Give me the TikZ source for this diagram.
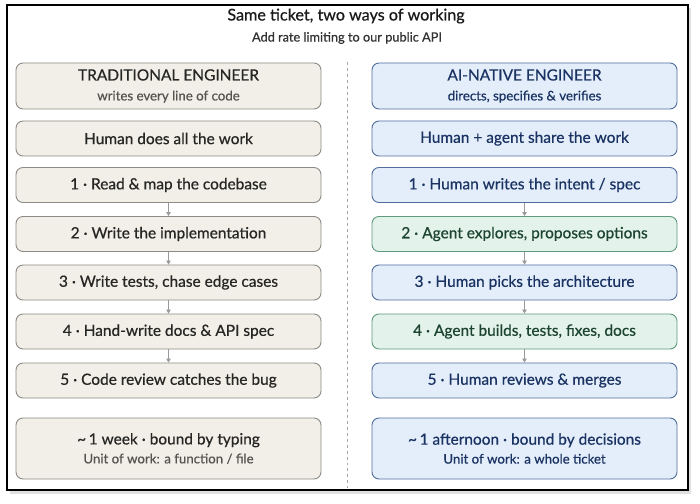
\documentclass[tikz,border=0pt]{standalone}
\usepackage{fontspec}
\setmainfont{Lato}[FakeBold=0.6]
\usetikzlibrary{arrows.meta}
\definecolor{tradfill}{HTML}{F1EFE7}
\definecolor{tradline}{HTML}{8C8B85}
\definecolor{tradtext}{HTML}{262624}
\definecolor{tradsub}{HTML}{55544F}
\definecolor{aifill}{HTML}{E4EEFA}
\definecolor{ailine}{HTML}{4F6E9C}
\definecolor{aitext}{HTML}{1A3363}
\definecolor{agentfill}{HTML}{E3F2EA}
\definecolor{agentline}{HTML}{5E9A7C}
\definecolor{agenttext}{HTML}{1C4431}
\definecolor{arrowgray}{HTML}{9A9A9A}
\newcommand{\bigtxt}{\fontsize{15.5}{18}\selectfont}
\newcommand{\smalltxt}{\fontsize{13.3}{15}\selectfont}
\begin{document}
\begin{tikzpicture}[x=1bp,y=-1bp,
  card/.style={rectangle, rounded corners=7bp, minimum width=305bp, inner sep=0pt,
    line width=0.9bp, align=center, font=\bigtxt},
  trad/.style={card, draw=tradline, fill=tradfill, text=tradtext},
  ai/.style={card, draw=ailine, fill=aifill, text=aitext},
  agent/.style={card, draw=agentline, fill=agentfill, text=agenttext},
  flow/.style={draw=arrowgray, line width=0.8bp, -{Triangle[length=4bp,width=4.5bp]}}]
\useasboundingbox (0,0) rectangle (700,504);
\fill[white] (0,0) rectangle (700,504);
% frame with a soft shadow
\fill[black!12] (10,8) rectangle (691,494);
\draw[line width=1.3bp, fill=white] (7,5) rectangle (688,490);

% titles
\node[font=\fontsize{16.2}{19}\selectfont, text=black!90] (title) at (346,16) {Same ticket, two ways of working};
\node[font=\fontsize{12.8}{15}\selectfont, text=black!80] (sub) at (347,38) {Add rate limiting to our public API};

% divider
\draw[black!35, dashed, line width=0.6bp] (347,62) -- (347,488);

% left column
\node[trad, minimum height=46bp] (lhead) at (168.5,86)
  {TRADITIONAL ENGINEER\\[2bp]{\smalltxt\color{tradsub}writes every line of code}};
\node[trad, minimum height=35bp] (lwho) at (168.5,138.5) {Human does all the work};
\node[trad, minimum height=35bp] (l1) at (168.5,185) {1 · Read \& map the codebase};
\node[trad, minimum height=35bp] (l2) at (168.5,234) {2 · Write the implementation};
\node[trad, minimum height=35bp] (l3) at (168.5,282.5) {3 · Write tests, chase edge cases};
\node[trad, minimum height=35bp] (l4) at (168.5,331.5) {4 · Hand-write docs \& API spec};
\node[trad, minimum height=35bp] (l5) at (168.5,380.5) {5 · Code review catches the bug};
\node[trad, minimum height=61bp] (lend) at (168.5,448.5)
  {\textasciitilde\,1 week · bound by typing\\[1bp]{\smalltxt\color{tradsub}Unit of work: a function / file}};

% right column
\node[ai, minimum height=46bp] (rhead) at (524.5,86)
  {AI-NATIVE ENGINEER\\[2bp]{\smalltxt directs, specifies \& verifies}};
\node[ai, minimum height=35bp] (rwho) at (524.5,138.5) {Human + agent share the work};
\node[ai, minimum height=35bp] (r1) at (524.5,185) {1 · Human writes the intent / spec};
\node[agent, minimum height=35bp] (r2) at (524.5,234) {2 · Agent explores, proposes options};
\node[ai, minimum height=35bp] (r3) at (524.5,282.5) {3 · Human picks the architecture};
\node[agent, minimum height=35bp] (r4) at (524.5,331.5) {4 · Agent builds, tests, fixes, docs};
\node[ai, minimum height=35bp] (r5) at (524.5,380.5) {5 · Human reviews \& merges};
\node[ai, minimum height=61bp] (rend) at (524.5,448.5)
  {\textasciitilde\,1 afternoon · bound by decisions\\[1bp]{\smalltxt Unit of work: a whole ticket}};

% step connectors
\foreach \a/\b in {l1/l2,l2/l3,l3/l4,l4/l5,r1/r2,r2/r3,r3/r4,r4/r5}
  \draw[flow] (\a.south) -- (\b.north);
\end{tikzpicture}
\end{document}
